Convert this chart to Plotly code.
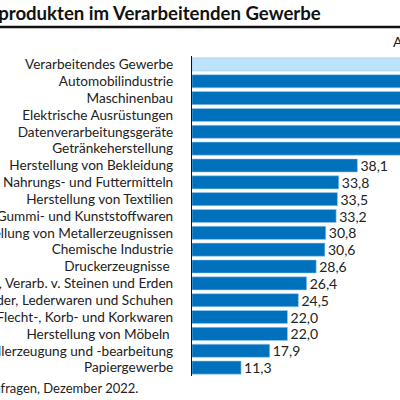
import plotly.graph_objects as go

# Anteil der Unternehmen mit Knappheit an Vorprodukten, Dezember 2022 (in %)
branchen = [
    "Verarbeitendes Gewerbe",
    "Automobilindustrie",
    "Maschinenbau",
    "Elektrische Ausrüstungen",
    "Datenverarbeitungsgeräte",
    "Getränkeherstellung",
    "Herstellung von Bekleidung",
    "Herstellung von Nahrungs- und Futtermitteln",
    "Herstellung von Textilien",
    "Herstellung von Gummi- und Kunststoffwaren",
    "Herstellung von Metallerzeugnissen",
    "Chemische Industrie",
    "Druckerzeugnisse\u00a0",
    "Glas, Keramik, Verarb. v. Steinen und Erden",
    "Herstellung von Leder, Lederwaren und Schuhen",
    "Holz-, Flecht-, Korb- und Korkwaren",
    "Herstellung von Möbeln\u00a0",
    "Metallerzeugung und -bearbeitung",
    "Papiergewerbe",
]
anteil = [50.7, 77.7, 72.1, 69.8, 66.0, 52.4, 38.1, 33.8, 33.5, 33.2,
          30.8, 30.6, 28.6, 26.4, 24.5, 22.0, 22.0, 17.9, 11.3]

x_max = 47.9  # sichtbarer Ausschnitt

farben = ["#bde3fb"] + ["#0071bc"] * (len(anteil) - 1)
labels = [("%.1f" % v).replace(".", ",") if v < x_max - 4 else "" for v in anteil]

fig = go.Figure()
fig.add_trace(go.Bar(
    y=branchen,
    x=anteil,
    orientation="h",
    marker=dict(color=farben, line=dict(color="#9fcdf0", width=0.6)),
    text=labels,
    textposition="outside",
    constraintext="none",
    textfont=dict(size=14, color="#222222"),
    cliponaxis=True,
))

fig.update_layout(
    width=400,
    height=400,
    margin=dict(l=192, r=0, t=56, b=24),
    plot_bgcolor="white",
    paper_bgcolor="white",
    font=dict(family="Lato", size=13.6, color="#222222"),
    showlegend=False,
    bargap=0.22,
)
fig.update_xaxes(range=[0, x_max], visible=False)
fig.update_yaxes(
    autorange="reversed",
    tickmode="array",
    tickvals=branchen,
    showgrid=False,
    showline=True,
    linecolor="#111111",
    linewidth=1.2,
    ticks="",
    ticklabelstandoff=15,
    automargin=False,
)

# Titel, Linie, Untertitel, Quelle
fig.add_annotation(
    text="<b>Knappheit an Vorprodukten im Verarbeitenden Gewerbe</b>",
    xref="paper", yref="paper", x=0.632, y=1.134,
    xanchor="right", yanchor="middle", showarrow=False,
    font=dict(size=18.6, color="#111111"),
)
fig.add_shape(
    type="line", xref="paper", yref="paper",
    x0=-1.2, x1=1.2, y0=1.0906, y1=1.0906,
    line=dict(color="#111111", width=2.5),
)
fig.add_annotation(
    text="Anteil der Unternehmen in %",
    xref="paper", yref="paper", x=0.955, y=1.044,
    xanchor="left", yanchor="middle", showarrow=False,
    font=dict(size=14, color="#222222"),
)
fig.add_annotation(
    text="Quelle: ifo Konjunkturumfragen, Dezember 2022.",
    xref="paper", yref="paper", x=-0.248, y=-0.0375,
    xanchor="right", yanchor="middle", showarrow=False,
    font=dict(size=13, color="#222222"),
)

fig.write_html(
    "out.html",
    config={"displayModeBar": False},
    post_script="document.body.style.margin='0';",
)
